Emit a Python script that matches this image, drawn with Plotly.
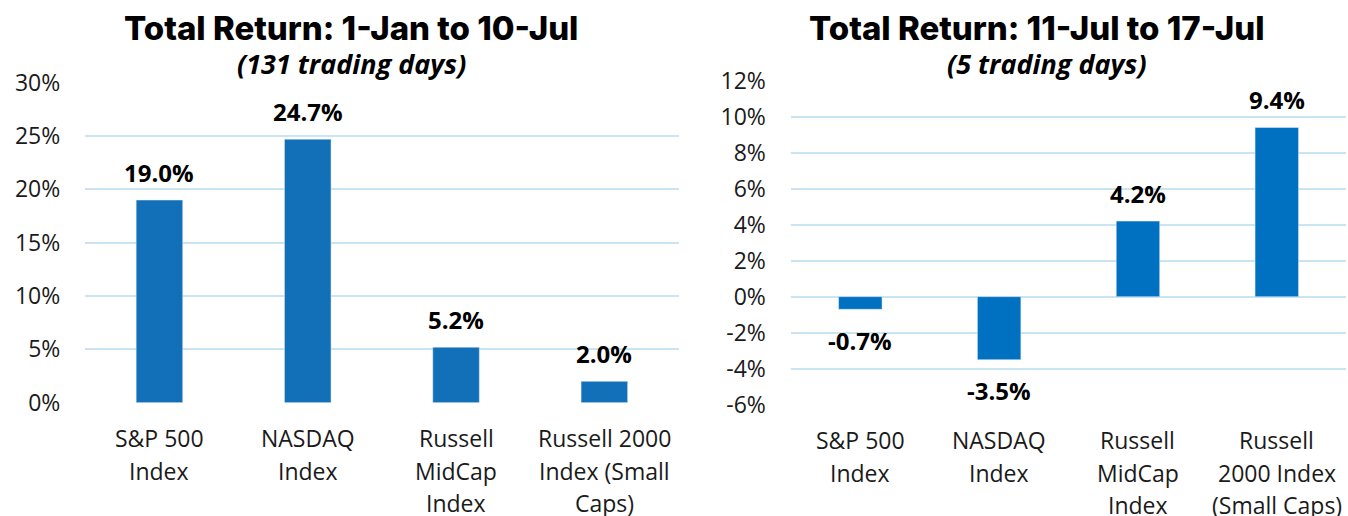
import plotly.graph_objects as go

# ---- data ----
categories_left = ["S&P 500<br>Index", "NASDAQ<br>Index", "Russell<br>MidCap<br>Index",
                   "Russell 2000<br>Index (Small<br>Caps)"]
categories_right = ["S&P 500<br>Index", "NASDAQ<br>Index", "Russell<br>MidCap<br>Index",
                    "Russell<br>2000 Index<br>(Small Caps)"]
ytd_returns = [19.0, 24.7, 5.2, 2.0]        # 1-Jan to 10-Jul, %
week_returns = [-0.7, -3.5, 4.2, 9.4]       # 11-Jul to 17-Jul, %
left_ticks = [0, 5, 10, 15, 20, 25, 30]
right_ticks = [-6, -4, -2, 0, 2, 4, 6, 8, 10, 12]

W, H = 1348, 516
GRID = "#c9e4f3"
TICKFONT = dict(family="Open Sans", size=23, color="#1a1a1a")
LABELFONT = dict(family="Open Sans", size=24, color="#000000", weight=700)

fig = go.Figure()
fig.add_trace(go.Bar(x=categories_left, y=ytd_returns, marker_color="#1170b8",
                     width=0.314, xaxis="x", yaxis="y", hoverinfo="skip"))
fig.add_trace(go.Bar(x=categories_right, y=week_returns, marker_color="#0070c0",
                     width=0.313, xaxis="x2", yaxis="y2", hoverinfo="skip"))

ann = []
for c, v in zip(categories_left, ytd_returns):
    ann.append(dict(x=c, y=v, xref="x", yref="y", text=f"{v:.1f}%", showarrow=False,
                    yshift=28, font=LABELFONT))
for c, v in zip(categories_right, week_returns):
    ann.append(dict(x=c, y=v, xref="x2", yref="y2", text=f"{v:.1f}%", showarrow=False,
                    yshift=28 if v >= 0 else -31, font=LABELFONT))

# category labels (one annotation per line, for Excel-like line spacing)
for cats, xr, yr in ((categories_left, "x", "y domain"), (categories_right, "x2", "y2 domain")):
    for c in cats:
        for i, line in enumerate(c.split("<br>")):
            ann.append(dict(x=c, y=0, xref=xr, yref=yr, text=line, showarrow=False,
                            yshift=-(35.5 + 32.5 * i), font=TICKFONT,
                            xanchor="center", yanchor="middle"))

TITLEFONT = dict(family="Inter", size=33, color="#000000", weight=800)
SUBFONT = dict(family="Open Sans", size=27, color="#000000", weight=700, style="italic")
ann += [
    dict(x=351 / W, y=1 - 28 / H, xref="paper", yref="paper", text="Total Return: 1-Jan to 10-Jul",
         showarrow=False, font=TITLEFONT, xanchor="center", yanchor="middle"),
    dict(x=351 / W, y=1 - 63 / H, xref="paper", yref="paper", text="(131 trading days)",
         showarrow=False, font=SUBFONT, xanchor="center", yanchor="middle"),
    dict(x=1037 / W, y=1 - 28 / H, xref="paper", yref="paper", text="Total Return: 11-Jul to 17-Jul",
         showarrow=False, font=TITLEFONT, xanchor="center", yanchor="middle"),
    dict(x=1047 / W, y=1 - 63 / H, xref="paper", yref="paper", text="(5 trading days)",
         showarrow=False, font=SUBFONT, xanchor="center", yanchor="middle"),
]

xcommon = dict(type="category", range=[-0.5, 3.5], showgrid=False, zeroline=False,
               showline=False, ticks="", showticklabels=False,
               fixedrange=True, automargin=False)
ycommon = dict(showgrid=True, gridcolor=GRID, gridwidth=2, zeroline=False, showline=False,
               ticks="", tickfont=TICKFONT, ticklabelstandoff=24, tickmode="array",
               fixedrange=True, automargin=False)

fig.update_layout(
    width=W, height=H, margin=dict(l=0, r=0, t=0, b=0, autoexpand=False),
    paper_bgcolor="white", plot_bgcolor="white", showlegend=False,
    xaxis=dict(domain=[85.3 / W, 678.5 / W], anchor="y", **xcommon),
    yaxis=dict(domain=[1 - 402.7 / H, 1 - 82.7 / H], anchor="x", range=[0, 30],
               tickvals=left_ticks, ticktext=[f"{t}%" for t in left_ticks], **ycommon),
    xaxis2=dict(domain=[790.9 / W, 1346.2 / W], anchor="y2", **xcommon),
    yaxis2=dict(domain=[1 - 404.7 / H, 1 - 80.7 / H], anchor="x2", range=[-6, 12],
                tickvals=right_ticks, ticktext=[f"{t}%" for t in right_ticks], **ycommon),
    annotations=ann,
)

fig.write_html(
    "out.html",
    config={"displayModeBar": False},
    post_script="document.body.style.margin='0';document.body.style.padding='0';",
)
